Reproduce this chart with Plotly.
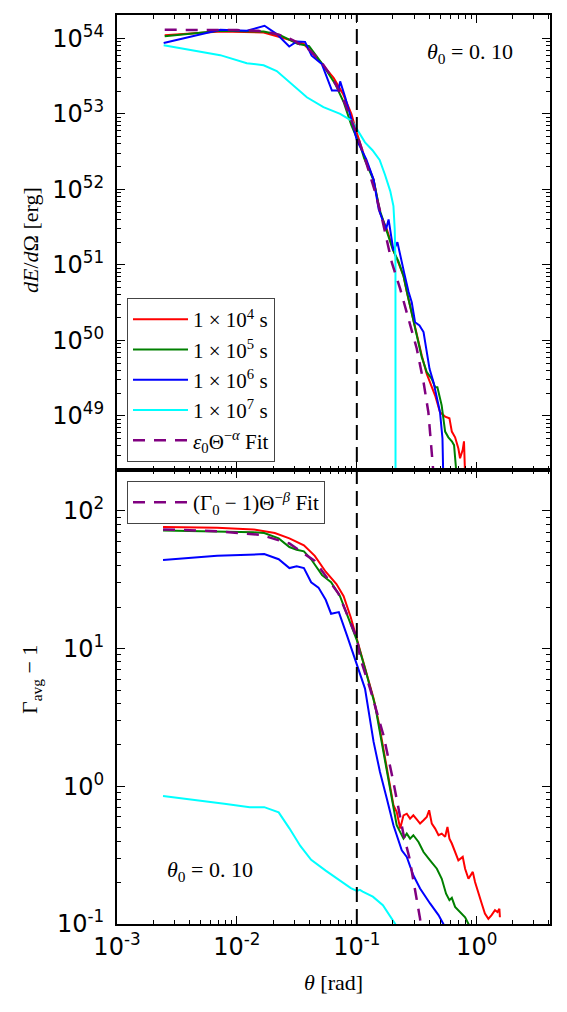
import plotly.graph_objects as go
from plotly.subplots import make_subplots

# ---------------- data ----------------
# Top panel: dE/dOmega [erg]
top_red_theta = [0.0025, 0.0073, 0.0167, 0.0245, 0.036, 0.049, 0.064, 0.077, 0.09, 0.1, 0.115, 0.138,
                 0.156, 0.178, 0.202, 0.222, 0.245, 0.261, 0.287, 0.316, 0.348, 0.383, 0.422, 0.45,
                 0.494, 0.545, 0.592, 0.62, 0.66, 0.703, 0.726, 0.764, 0.783, 0.80]
top_red_val = [1.10e54, 1.23e54, 1.20e54, 1.02e54, 8.5e53, 5.0e53, 3.0e53, 1.82e53, 1.0e53, 5.6e52, 2.8e52, 1.35e52,
               4.9e51, 2.95e51, 1.55e51, 1.07e51, 7.2e50, 4.4e50, 2.35e50, 1.15e50, 6.3e49, 3.6e49, 2.5e49, 1.86e49,
               1.12e49, 9.8e48, 9.3e48, 6.2e48, 5.2e48, 3.7e48, 2.75e48, 3.55e48, 4.6e48, 1.6e48]

top_green_theta = [0.0025, 0.0073, 0.0167, 0.0225, 0.032, 0.04, 0.052, 0.066, 0.078, 0.09, 0.1, 0.105, 0.115,
                   0.138, 0.156, 0.178, 0.2, 0.222, 0.245, 0.27, 0.29, 0.316, 0.348, 0.383, 0.422, 0.45,
                   0.47, 0.51, 0.545, 0.58, 0.62, 0.647, 0.68]
top_green_val = [1.07e54, 1.26e54, 1.23e54, 1.12e54, 8.5e53, 7.9e53, 4.5e53, 2.5e53, 1.41e53, 7.1e52, 4.8e52, 4.2e52, 2.6e52,
                 1.32e52, 5.2e51, 2.8e51, 1.58e51, 1.12e51, 7.1e50, 3.5e50, 2.1e50, 1.26e50, 6.0e49, 3.8e49, 3.1e49, 2.4e49,
                 2.4e49, 1.38e49, 6.2e48, 5.2e48, 4.6e48, 4.1e48, 1.6e48]

top_blue_theta = [0.00245, 0.00726, 0.0121, 0.017, 0.0215, 0.0273, 0.0316, 0.037, 0.042, 0.051, 0.062, 0.0703,
                  0.0726, 0.08, 0.0908, 0.1, 0.12, 0.138, 0.152, 0.169, 0.175, 0.184, 0.19, 0.202, 0.218, 0.23,
                  0.248, 0.27, 0.287, 0.306, 0.333, 0.36, 0.383, 0.404, 0.436, 0.464, 0.494, 0.518, 0.527]
top_blue_val = [8.7e53, 1.30e54, 1.26e54, 1.47e54, 1.14e54, 7.8e53, 9.1e53, 9.0e53, 5.9e53, 4.6e53, 2.04e53, 2.04e53,
                2.7e53, 1.66e53, 8.1e52, 4.5e52, 2.5e52, 1.35e52, 5.5e51, 3.6e51, 2.95e51, 4.0e51, 2.95e51, 1.55e51,
                2.0e51, 1.32e51, 7.9e50, 4.4e50, 3.2e50, 1.74e50, 1.58e50, 1.29e50, 6.9e49, 4.2e49, 2.8e49, 1.86e49,
                1.12e49, 5.0e48, 1.3e48]

top_cyan_theta = [0.00245, 0.00726, 0.0121, 0.0167, 0.0215, 0.0278, 0.0383, 0.0527, 0.0726, 0.0908, 0.1, 0.117,
                  0.135, 0.155, 0.172, 0.19, 0.202, 0.207, 0.21, 0.2105]
top_cyan_val = [8.1e53, 6.0e53, 4.7e53, 4.4e53, 3.7e53, 2.6e53, 1.66e53, 1.23e53, 1.0e53, 8.1e52, 6.3e52, 4.2e52,
                3.3e52, 2.45e52, 1.55e52, 9.5e51, 6.0e51, 3.0e51, 1.1e51, 1.0e46]

top_fit_theta = [0.0025, 0.005, 0.01, 0.015, 0.02, 0.025, 0.03, 0.04, 0.05, 0.06, 0.07, 0.08, 0.09, 0.1,
                 0.12, 0.14, 0.16, 0.196, 0.23, 0.27, 0.316, 0.36, 0.395, 0.43, 0.44]
top_fit_val = [1.30e54, 1.30e54, 1.29e54, 1.26e54, 1.17e54, 1.07e54, 9.3e53, 7.1e53, 5.0e53, 3.3e53, 2.14e53,
               1.35e53, 8.5e52, 5.4e52, 2.24e52, 1.0e52, 4.5e51, 1.07e51, 4.8e50, 1.9e50, 7.8e49, 2.8e49,
               1.12e49, 2.24e48, 1.26e48]

# Bottom panel: Gamma_avg - 1
bot_red_theta = [0.00242, 0.00684, 0.0137, 0.0207, 0.0274, 0.0362, 0.0446, 0.055, 0.0676, 0.0776, 0.0891, 0.1,
                 0.117, 0.138, 0.152, 0.167, 0.184, 0.202, 0.215, 0.23, 0.245, 0.261, 0.278, 0.296, 0.316, 0.337,
                 0.36, 0.383, 0.401, 0.422, 0.45, 0.48, 0.511, 0.545, 0.57, 0.592, 0.62, 0.66, 0.703, 0.764, 0.80,
                 0.853, 0.927, 0.968, 1.033, 1.10, 1.17, 1.25, 1.33, 1.42, 1.49, 1.545, 1.56]
bot_red_val = [76.4, 75.3, 73.3, 69.0, 63.1, 56.2, 47.1, 36.1, 29.4, 24.0, 16.8, 11.8,
               7.16, 4.34, 2.93, 1.88, 1.14, 0.728, 0.652, 0.493, 0.615, 0.632, 0.582, 0.615, 0.575, 0.536,
               0.566, 0.598, 0.670, 0.536, 0.493, 0.441, 0.453, 0.429, 0.507, 0.417, 0.384, 0.333, 0.290, 0.307, 0.252,
               0.213, 0.239, 0.202, 0.171, 0.141, 0.119, 0.109, 0.116, 0.126, 0.122, 0.129, 0.112]

bot_green_theta = [0.00242, 0.00684, 0.0137, 0.0169, 0.0223, 0.0274, 0.0315, 0.0362, 0.0416, 0.0513, 0.061, 0.0724,
                   0.0863, 0.1, 0.117, 0.142, 0.161, 0.19, 0.215, 0.245, 0.261, 0.278, 0.296, 0.327, 0.36, 0.408,
                   0.465, 0.511, 0.555, 0.592, 0.62, 0.66, 0.726, 0.80, 0.88]
bot_green_val = [71.9, 71.1, 69.8, 69.0, 63.1, 54.6, 52.1, 50.8, 44.5, 34.1, 30.3, 24.0,
                 15.8, 11.5, 7.16, 3.87, 2.10, 0.91, 0.521, 0.417, 0.453, 0.417, 0.441, 0.394, 0.333, 0.290,
                 0.252, 0.213, 0.166, 0.149, 0.155, 0.133, 0.122, 0.112, 0.095]

bot_blue_theta = [0.00242, 0.00684, 0.0169, 0.0223, 0.0274, 0.0315, 0.0362, 0.0416, 0.0479, 0.055, 0.061, 0.0708,
                  0.0826, 0.1, 0.117, 0.138, 0.156, 0.178, 0.202, 0.237, 0.261, 0.296, 0.337, 0.408, 0.48, 0.527, 0.55]
bot_blue_val = [44.0, 47.1, 48.5, 44.5, 38.4, 39.5, 38.4, 30.3, 27.7, 22.6, 17.9, 18.4,
                12.5, 7.76, 5.12, 2.10, 1.27, 0.813, 0.521, 0.343, 0.307, 0.226, 0.181, 0.141, 0.116, 0.1, 0.093]

bot_cyan_theta = [0.00242, 0.00483, 0.00785, 0.0128, 0.0169, 0.0223, 0.0274, 0.0338, 0.0416, 0.055, 0.0724, 0.0891,
                  0.1, 0.106, 0.112, 0.136, 0.165, 0.209, 0.22]
bot_cyan_val = [0.849, 0.792, 0.746, 0.705, 0.705, 0.646, 0.495, 0.369, 0.292, 0.244, 0.205, 0.182,
                0.174, 0.177, 0.172, 0.158, 0.137, 0.1, 0.09]

bot_fit_theta = [0.00242, 0.00684, 0.0157, 0.0274, 0.0446, 0.0703, 0.1, 0.107, 0.129, 0.167, 0.202, 0.245,
                 0.275, 0.296, 0.337, 0.345]
bot_fit_val = [73.3, 71.1, 67.0, 57.9, 43.2, 25.1, 11.9, 8.45, 5.12, 2.34, 1.07, 0.447,
               0.30, 0.209, 0.109, 0.089]

# labels
legend_names = ["1 × 10<sup>4</sup> s", "1 × 10<sup>5</sup> s", "1 × 10<sup>6</sup> s", "1 × 10<sup>7</sup> s"]
fit_top_name = "<i>ε</i><sub>0</sub>Θ<sup>−<i>α</i></sup> Fit"
fit_bot_name = "(Γ<sub>0</sub> − 1)Θ<sup>−<i>β</i></sup> Fit"
x_tick_vals = [1e-3, 1e-2, 1e-1, 1e0]
x_tick_text = ["10<sup>-3</sup>", "10<sup>-2</sup>", "10<sup>-1</sup>", "10<sup>0</sup>"]
top_tick_vals = [1e49, 1e50, 1e51, 1e52, 1e53, 1e54]
top_tick_text = ["10<sup>49</sup>", "10<sup>50</sup>", "10<sup>51</sup>", "10<sup>52</sup>", "10<sup>53</sup>", "10<sup>54</sup>"]
bot_tick_vals = [1e-1, 1e0, 1e1, 1e2]
bot_tick_text = ["10<sup>-1</sup>", "10<sup>0</sup>", "10<sup>1</sup>", "10<sup>2</sup>"]
theta0_label = "<i>θ</i><sub>0</sub> = 0. 10"

colors = ["#ff0000", "#008000", "#0000ff", "#00ffff"]
fit_color = "#800080"
SERIF = "Liberation Serif"
SANS = "DejaVu Sans"

def minor_vals(lo, hi):
    return [k * 10.0 ** n for n in range(lo, hi + 1) for k in range(2, 10)]

fig = make_subplots(rows=2, cols=1, shared_xaxes=True, vertical_spacing=0)

top_sets = [(top_red_theta, top_red_val), (top_green_theta, top_green_val),
            (top_blue_theta, top_blue_val), (top_cyan_theta, top_cyan_val)]
bot_sets = [(bot_red_theta, bot_red_val), (bot_green_theta, bot_green_val),
            (bot_blue_theta, bot_blue_val), (bot_cyan_theta, bot_cyan_val)]

for (tx, ty), name, c in zip(top_sets, legend_names, colors):
    fig.add_trace(go.Scatter(x=tx, y=ty, mode="lines", name=name, line=dict(color=c, width=2),
                             legend="legend"), row=1, col=1)
fig.add_trace(go.Scatter(x=top_fit_theta, y=top_fit_val, mode="lines", name=fit_top_name,
                         line=dict(color=fit_color, width=2.5, dash="12px,9px"), legend="legend"), row=1, col=1)

for (tx, ty), name, c in zip(bot_sets, legend_names, colors):
    fig.add_trace(go.Scatter(x=tx, y=ty, mode="lines", name=name, line=dict(color=c, width=2),
                             showlegend=False), row=2, col=1)
fig.add_trace(go.Scatter(x=bot_fit_theta, y=bot_fit_val, mode="lines", name=fit_bot_name,
                         line=dict(color=fit_color, width=2.5, dash="12px,9px"), legend="legend2"), row=2, col=1)

# vertical theta0 line
fig.add_shape(type="line", xref="x", yref="paper", x0=0.1, x1=0.1, y0=0, y1=1,
              line=dict(color="black", width=2, dash="15px,7px"))

axis_common = dict(type="log", showgrid=False, zeroline=False, showline=True, linecolor="black", linewidth=2,
                   mirror="ticks", ticks="inside", ticklen=8, tickwidth=1, tickcolor="black",
                   tickfont=dict(family=SANS, size=24, color="black"), tickmode="array")

fig.update_xaxes(**axis_common, range=[-3, 0.611], tickvals=x_tick_vals, ticktext=x_tick_text,
                 minor=dict(tickvals=minor_vals(-3, 0), ticks="inside", ticklen=4, tickwidth=1, tickcolor="black"))
fig.update_xaxes(showticklabels=False, row=1, col=1)
fig.update_yaxes(**axis_common, row=1, col=1, range=[48.29, 54.31], tickvals=top_tick_vals, ticktext=top_tick_text,
                 ticklabelstandoff=6,
                 minor=dict(tickvals=minor_vals(48, 54), ticks="inside", ticklen=4, tickwidth=1, tickcolor="black"))
fig.update_yaxes(**axis_common, row=2, col=1, range=[-1, 2.30], tickvals=bot_tick_vals, ticktext=bot_tick_text,
                 ticklabelstandoff=6,
                 minor=dict(tickvals=minor_vals(-1, 2), ticks="inside", ticklen=4, tickwidth=1, tickcolor="black"))

W, H = 567, 1012
L, R, T, B = 117, 17, 15, 88
pw, ph = W - L - R, H - T - B

def px(xp):
    return (xp - L) / pw

def py(yp):
    return (H - B - yp) / ph

ann = [
    dict(text="<i>dE</i>/<i>d</i>Ω [erg]", x=px(30), y=py(240), textangle=-90),
    dict(text="Γ<sub>avg</sub> − 1", x=px(31), y=py(680), textangle=-90),
    dict(text="<i>θ</i> [rad]", x=px(333), y=py(983)),
    dict(text=theta0_label, x=px(470), y=py(53)),
    dict(text=theta0_label, x=px(210), y=py(871)),
]
for a in ann:
    fig.add_annotation(xref="paper", yref="paper", showarrow=False, xanchor="center", yanchor="middle",
                       font=dict(family=SERIF, size=22, color="black"), **a)

fig.update_layout(
    width=W, height=H, margin=dict(l=L, r=R, t=T, b=B),
    paper_bgcolor="white", plot_bgcolor="white",
    showlegend=True,
    legend=dict(x=px(127), y=py(298), xanchor="left", yanchor="top", bgcolor="white",
                bordercolor="#444", borderwidth=1, font=dict(family=SERIF, size=21, color="black"),
                itemwidth=55, tracegroupgap=0),
    legend2=dict(x=px(127), y=py(481), xanchor="left", yanchor="top", bgcolor="white",
                 bordercolor="#444", borderwidth=1, font=dict(family=SERIF, size=21, color="black"),
                 itemwidth=55),
)

fig.write_html("out.html")
